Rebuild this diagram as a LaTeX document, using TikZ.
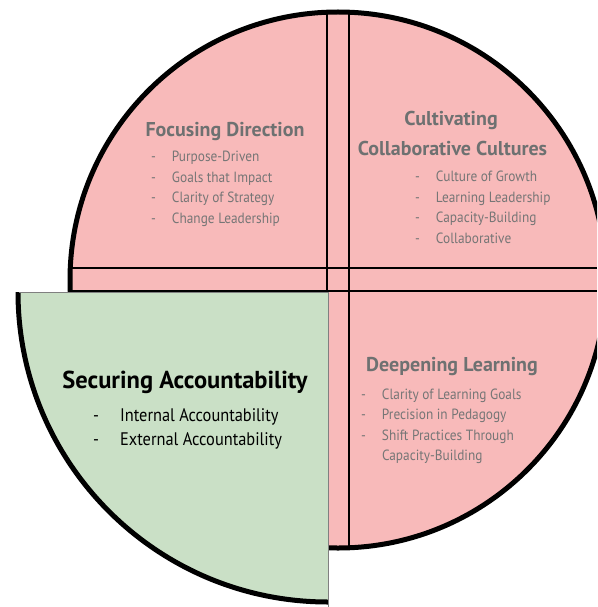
\documentclass[tikz,border=0pt]{standalone}
\usepackage{fontspec}
\setmainfont{PT Sans}
\newfontfamily\itemfont{PT Sans}[FakeStretch=0.9]
\usetikzlibrary{positioning}

\definecolor{pinkfill}{RGB}{248,186,186}
\definecolor{greenfill}{RGB}{202,224,198}
\definecolor{titlegray}{RGB}{110,113,113}
\definecolor{itemgray}{RGB}{118,118,118}

\newcommand{\dashlist}[1]{\begin{tabular}{@{}l@{\hspace{16pt}}l@{}}#1\end{tabular}}

\tikzset{
  rim/.style={line width=5pt, black},
  divider/.style={line width=2.4pt, black},
  title/.style={font=\bfseries\fontsize{20}{22}\selectfont, text=titlegray, inner sep=0pt, text height=14pt, text depth=0pt},
  items/.style={font=\itemfont\fontsize{14.8}{20.4}\selectfont, text=itemgray, inner sep=0pt, anchor=west},
}

\begin{document}
\begin{tikzpicture}[x=1pt,y=-1pt]
\useasboundingbox (0,0) rectangle (597,607);
\begin{scope}
\clip (0,0) rectangle (597,607);

% the pie
\fill[pinkfill] (338,280) circle[radius=268];
\begin{scope}
  \clip (338,280) circle[radius=268];
  \draw[divider] (327,0) -- (327,607);
  \draw[divider] (349,0) -- (349,607);
  \draw[divider] (0,268) -- (597,268);
  \draw[divider] (0,291) -- (597,291);
\end{scope}
\draw[rim] (338,280) circle[radius=268];

% pulled-out slice
\begin{scope}
  \clip (328,292) rectangle (0,640);
  \fill[greenfill] (328,292) circle[radius=310];
  \draw[rim] (328,292) circle[radius=310];
\end{scope}
\draw[gray, line width=0.6pt] (19,292) -- (328,292) -- (328,607);
\end{scope}

% texts
\node[title] (focus) at (225,129) {Focusing Direction};
\node[items] (focuslist) at (151,188.5) {\dashlist{
  - & Purpose-Driven\\
  - & Goals that Impact\\
  - & Clarity of Strategy\\
  - & Change Leadership}};

\node[title] (cult) at (451,118) {Cultivating};
\node[title] (cult2) at (452.5,148) {Collaborative Cultures};
\node[items] (cultlist) at (415,208.5) {\dashlist{
  - & Culture of Growth\\
  - & Learning Leadership\\
  - & Capacity-Building\\
  - & Collaborative}};

\node[title] (deep) at (452,364) {Deepening Learning};
\node[items] (deeplist) at (361,426) {\dashlist{
  - & Clarity of Learning Goals\\
  - & Precision in Pedagogy\\
  - & Shift Practices Through\\
    & Capacity-Building}};

\node[title, font=\bfseries\fontsize{24.5}{28}\selectfont, text=black, text height=17pt] (secure) at (185,380) {Securing Accountability};
\node[items, font=\itemfont\fontsize{18.2}{24}\selectfont, text=black] (securelist) at (93,428.5) {\begin{tabular}{@{}l@{\hspace{21pt}}l@{}}
  - & Internal Accountability\\
  - & External Accountability\end{tabular}};

\end{tikzpicture}
\end{document}
